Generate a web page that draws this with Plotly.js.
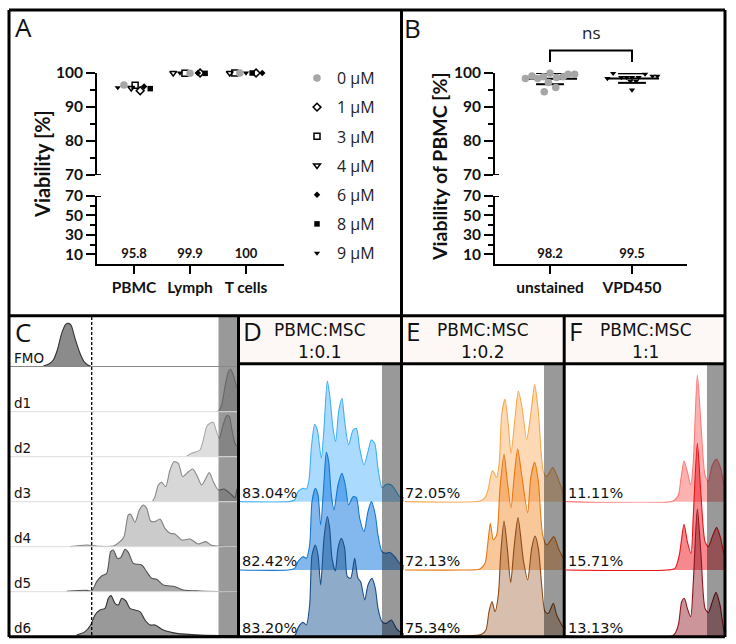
<!DOCTYPE html>
<html><head><meta charset="utf-8">
<script src="https://cdn.plot.ly/plotly-3.0.1.min.js"></script>
<style>html,body{margin:0;padding:0;background:#fff}#c{width:736px;height:644px}</style></head>
<body><div id="c"></div>
<script>
// ---------- Panel A data ----------
const catsA = ['PBMC','Lymph','T cells'];
const medA = ['95.8','99.9','100'];
const dose0x=[-0.18,1.0,1.89],  dose0y=[96.5,99.9,100];
const dose1x=[0.11,1.18,2.18],  dose1y=[94.8,100,100];
const dose3x=[0.02,0.91,1.80],  dose3y=[96.4,99.9,100];
const dose4x=[-0.05,0.70,1.71], dose4y=[95.6,100,100];
const dose6x=[0.18,1.14,2.29],  dose6y=[96,100,100];
const dose8x=[0.29,1.27,2.11],  dose8y=[95.4,99.9,100];
const dose9x=[-0.29,0.82,2.0],  dose9y=[95.7,100,100];
// ---------- Panel B data ----------
const catsB=['unstained','VPD450'];
const medB=['98.2','99.5'];
const unstX=[-0.30,-0.22,-0.15,-0.08,0,0.08,0.16,0.22,0.30,-0.07,0.07,-0.02];
const unstY=[98.4,99.1,98.4,98.9,99.9,98.7,98.9,99.6,99.6,94.5,95.7,97.2];
const vpdX=[0.70,0.77,0.87,0.935,1,1.08,1.16,1.25,1.31,1,0.98,1.05];
const vpdY=[98.4,99.9,98.7,98.7,98.7,98.7,99.7,99.1,99.1,95,97.6,97.6];
const unstMean=98.3, unstHi=100, unstLo=96.7;
const vpdMean=98.4, vpdHi=99.9, vpdLo=97.1;
// ---------- Panel C histograms ----------
const fmoX=[130,145,160,172,185,197,205,213,225,240,252,265,272];
const fmoY=[0,5,18,48,98,125,128,123,83,38,13,2,0];
const d1X=[650,656,665,675,685,692,700,710,720];
const d1Y=[1,2,20,75,120,127,110,75,50];
const d2X=[560,575,590,600,610,620,630,640,648,658,668,680,688,695,705,712,720];
const d2Y=[1,10,15,20,50,90,100,103,80,55,90,123,120,85,40,30,25];
const d3X=[458,465,475,485,497,510,522,535,548,560,578,590,605,615,628,640,655,672,690,705,712,720];
const d3Y=[2,15,50,58,45,95,120,115,75,85,98,80,50,65,87,60,35,38,25,12,40,45];
const d4X=[210,260,300,340,360,372,385,392,405,418,430,440,452,465,480,495,510,525,545,570,595,617,635,660,720];
const d4Y=[0,5,1,2,15,30,95,97,73,110,125,115,77,75,83,55,40,38,20,23,8,15,4,1,0];
const d5X=[200,260,275,290,305,320,332,340,352,362,375,385,400,425,440,455,470,490,525,550,600,720];
const d5Y=[1,4,2,30,47,55,120,125,100,102,127,118,85,80,60,40,37,20,15,5,2,0];
const d6X=[230,255,272,285,300,315,325,333,345,355,365,378,390,420,435,450,465,490,530,600,720];
const d6Y=[2,12,32,62,77,82,112,120,97,92,112,104,82,72,47,32,32,17,7,2,0];
// ---------- Panel D ----------
const dTopX=[5,150,170,180,195,205,213,220,230,238,250,258,268,275,285,293,302,312,320,332,345,355,365,378,390,400,410,420,432,445,460,475,485,498];
const dTopY=[0,0,5,30,40,38,65,160,232,215,130,220,362,320,220,180,270,310,240,170,215,220,160,110,150,185,175,100,42,52,50,30,15,12];
const dMidX=[5,150,170,180,195,205,215,222,232,240,248,258,265,272,280,288,300,312,322,332,345,355,365,378,390,400,412,420,432,445,455,470,485,498];
const dMidY=[0,0,5,25,40,35,75,205,245,225,135,265,353,325,225,180,255,290,255,195,220,217,155,115,175,205,165,105,55,50,53,40,20,12];
const dBotX=[5,150,170,182,195,205,215,222,232,240,248,258,268,275,282,292,300,310,320,328,338,350,360,368,380,390,402,412,420,432,445,460,475,485,498];
const dBotY=[0,0,3,30,43,35,95,245,275,245,155,295,360,325,235,197,265,295,265,180,175,235,175,165,110,155,175,145,85,45,40,50,25,15,8];
// ---------- Panel E ----------
const eTopX=[15,240,255,265,277,290,298,305,315,325,333,345,355,365,380,392,404,415,430,440,458,470,490];
const eTopY=[0,2,12,40,93,73,120,260,307,230,145,250,332,290,187,260,352,270,90,75,102,80,25];
const eMidX=[15,185,240,255,263,271,280,290,300,312,322,333,343,353,365,383,392,404,415,428,440,462,475,490];
const eMidY=[0,0,3,20,75,140,90,105,245,347,265,187,285,363,285,172,275,323,265,105,75,100,65,35];
const eBotX=[15,215,245,258,267,276,285,295,302,312,322,332,342,354,370,383,395,405,415,425,435,445,460,470,488];
const eBotY=[0,1,5,18,73,103,73,123,243,345,263,160,263,355,228,168,263,300,263,153,73,68,98,63,28];
// ---------- Panel F ----------
const fTopX=[498,820,835,843,852,862,872,880,892,903,915,925,937,950,962,975,985];
const fTopY=[0,2,20,70,122,90,50,120,380,230,80,60,110,128,100,40,35];
const fMidX=[498,800,825,838,852,862,873,880,892,903,915,925,937,950,962,975,985];
const fMidY=[0,0,5,45,137,85,50,165,380,225,85,70,100,128,95,40,35];
const fBotX=[498,820,835,845,853,862,872,880,892,903,915,925,937,948,960,975,985];
const fBotY=[0,2,33,103,113,83,58,163,381,243,83,70,103,131,93,8,5];
const pctD=['83.04%','82.42%','83.20%'], pctE=['72.05%','72.13%','75.34%'], pctF=['11.11%','15.71%','13.13%'];
const rowLabels=['FMO','d1','d2','d3','d4','d5','d6'];
const headersDEF=['PBMC:MSC<br>1:0.1','PBMC:MSC<br>1:0.2','PBMC:MSC<br>1:1'];

// ---------- helpers ----------
const W=736,H=644, BOLD='Lato, sans-serif', VERD='"DejaVu Sans", sans-serif', OPEN='"Open Sans", sans-serif';
const px=x=>x/W, py=y=>1-y/H;
const traces=[], shapes=[], annotations=[];
const layout={width:W,height:H,margin:{l:0,r:0,t:0,b:0},paper_bgcolor:'#fff',plot_bgcolor:'rgba(0,0,0,0)',
  showlegend:true,hovermode:false,font:{family:OPEN,color:'#000'},shapes,annotations,
  legend:{x:px(297),y:py(61),xanchor:'left',yanchor:'top',font:{family:OPEN,size:16,color:'#222'},
          tracegroupgap:5.4,bgcolor:'rgba(0,0,0,0)',itemwidth:30,traceorder:'grouped'}};
const ann=(text,x,y,size,family,o={})=>annotations.push(Object.assign({text,x:px(x),y:py(y),xref:'paper',yref:'paper',
  showarrow:false,font:{size,family,color:'#111'},xanchor:'center',yanchor:'middle'},o));
const hline=(x0,x1,y,color,w)=>shapes.push({type:'line',xref:'paper',yref:'paper',x0:px(x0),x1:px(x1),y0:py(y),y1:py(y),line:{color,width:w},layer:'above'});
const vline=(x,y0,y1,color,w,dash)=>shapes.push({type:'line',xref:'paper',yref:'paper',x0:px(x),x1:px(x),y0:py(y0),y1:py(y1),line:{color,width:w,dash:dash||'solid'},layer:'above'});

function brokenAxes(xa,ya0,ya1,left,right,catX0,catStep,cats){
  const xn=xa==='x'?'xaxis':'xaxis'+xa.slice(1);
  const yl=ya0==='y'?'yaxis':'yaxis'+ya0.slice(1), yu='yaxis'+ya1.slice(1);
  const lo=(left-catX0)/catStep, hi=(right-catX0)/catStep;
  layout[xn]={domain:[px(left),px(right)],range:[lo,hi],anchor:ya0,tickvals:cats.map((c,i)=>i),ticktext:cats,
    ticks:'outside',ticklen:8,tickwidth:2,tickcolor:'#000',showline:true,linecolor:'#000',linewidth:2,showgrid:false,zeroline:false,
    tickfont:{family:BOLD,size:15.5,color:'#111',weight:700}};
  const base={anchor:xa,showline:true,linecolor:'#000',linewidth:2,showgrid:false,zeroline:false,ticks:'outside',ticklen:9,tickwidth:2,
    tickcolor:'#000',tickfont:{family:BOLD,size:15.5,color:'#111',weight:700}};
  layout[yl]=Object.assign({},base,{domain:[py(264),py(196)],range:[0,70],tickvals:[10,30,50,70],ticktext:['10','30','50','70'],
    minor:{tickvals:[20,40,60],ticks:'outside',ticklen:5,tickwidth:2,tickcolor:'#000'}});
  layout[yu]=Object.assign({},base,{domain:[py(175),py(73)],range:[70,100],tickvals:[70,80,90,100],ticktext:['70','80','90','100'],
    minor:{tickvals:[75,85,95],ticks:'outside',ticklen:5,tickwidth:2,tickcolor:'#000'}});
  [[ya0,70],[ya1,70]].forEach(([yr,v])=>shapes.push({type:'line',xref:xa,yref:yr,x0:lo,x1:lo+4/catStep,y0:v,y1:v,line:{color:'#000',width:2}}));
}
const dark='#000';
function dose(name,xs,ys,sym,size,color){
  traces.push({type:'scatter',mode:'markers',name,legendgroup:name,x:xs,y:ys,xaxis:'x',yaxis:'y2',cliponaxis:false,
    marker:{symbol:sym,size,color:color||dark,line:{color:color||dark,width:sym.includes('open')?1.5:0}}});
}
// Panel A
brokenAxes('x','y','y2',97,284,134,56,catsA);
dose('4 µM',dose4x,dose4y,'triangle-down-open',6);
dose('3 µM',dose3x,dose3y,'square-open',6);
dose('1 µM',dose1x,dose1y,'diamond-open',6);
dose('6 µM',dose6x,dose6y,'diamond',5);
dose('8 µM',dose8x,dose8y,'square',5.5);
dose('9 µM',dose9x,dose9y,'triangle-down',5.5);
dose('0 µM',dose0x,dose0y,'circle',7.5,'#a6a6a6');
traces.push({type:'scatter',mode:'text',x:[0,1,2],y:[10,10,10],text:medA,xaxis:'x',yaxis:'y',showlegend:false,cliponaxis:false,
  textfont:{family:BOLD,size:13,color:'#111',weight:700},textposition:'middle center'});
// Panel B
brokenAxes('x2','y3','y4',495,687,550,82,catsB);
const meanLine=(c,m,hi,lo)=>({x:[c-0.31,c+0.33,null,c-0.17,c+0.17,null,c-0.17,c+0.17],y:[m,m,null,hi,hi,null,lo,lo]});
[[0,unstMean,unstHi,unstLo],[1,vpdMean,vpdHi,vpdLo]].forEach(a=>{
  const l=meanLine(...a);
  traces.push({type:'scatter',mode:'lines',x:l.x,y:l.y,xaxis:'x2',yaxis:'y4',cliponaxis:false,showlegend:false,line:{color:'#000',width:2}});
});
traces.push({type:'scatter',mode:'markers',x:unstX,y:unstY,xaxis:'x2',yaxis:'y4',cliponaxis:false,showlegend:false,marker:{symbol:'circle',size:7.5,color:'#a6a6a6'}});
traces.push({type:'scatter',mode:'markers',x:vpdX,y:vpdY,xaxis:'x2',yaxis:'y4',cliponaxis:false,showlegend:false,marker:{symbol:'triangle-down',size:5.5,color:'#000'}});
traces.push({type:'scatter',mode:'text',x:[0,1],y:[10,10],text:medB,xaxis:'x2',yaxis:'y3',showlegend:false,cliponaxis:false,
  textfont:{family:BOLD,size:13,color:'#111',weight:700},textposition:'middle center'});
shapes.push({type:'path',xref:'x2',yref:'paper',path:`M0,${py(62)} L0,${py(50.5)} L1,${py(50.5)} L1,${py(62)}`,line:{color:'#000',width:2}});
ann('ns',591,33,17,OPEN,{font:{size:17,family:OPEN,color:'#222'}});
ann('Viability [%]',42,164,20,BOLD,{textangle:-90,font:{size:20,family:BOLD,color:'#111',weight:700}});
ann('Viability of PBMC [%]',439,166,19.5,BOLD,{textangle:-90,font:{size:19.5,family:BOLD,color:'#111',weight:700}});

// ridge panels
let yIdx=5,xIdx=3;
function panel(l,r,range,ridges){
  const xn='x'+xIdx; 
  layout['xaxis'+xIdx]={domain:[px(l),px(r)],range,visible:false,anchor:'y'+yIdx,fixedrange:true};
  ridges.forEach(rd=>{
    layout['yaxis'+yIdx]={domain:[py(rd.base+1),py(rd.base-140)],range:[-3,420],visible:false,anchor:xn,fixedrange:true};
    traces.push({type:'scatter',mode:'lines',x:rd.x,y:rd.y,xaxis:xn,yaxis:'y'+yIdx,showlegend:false,fill:'tozeroy',fillcolor:rd.fill,
      line:{color:rd.line,width:1.1,shape:'spline',smoothing:0.7}});
    yIdx++;
  });
  xIdx++;
}
const by=z=>315+z/3;
panel(0,238,[0,714],[
 {x:fmoX,y:fmoY,base:by(153),fill:'rgba(110,110,110,.8)',line:'#333'},
 {x:d1X,y:d1Y,base:by(290),fill:'rgba(150,150,150,.35)',line:'#aaa'},
 {x:d2X,y:d2Y,base:by(425),fill:'rgba(200,200,200,.6)',line:'#aaa'},
 {x:d3X,y:d3Y,base:by(560),fill:'rgba(190,190,190,.62)',line:'#8a8a8a'},
 {x:d4X,y:d4Y,base:by(695),fill:'rgba(175,175,175,.65)',line:'#808080'},
 {x:d5X,y:d5Y,base:by(830),fill:'rgba(130,130,130,.7)',line:'#555'},
 {x:d6X,y:d6Y,base:by(962),fill:'rgba(110,110,110,.7)',line:'#333'}]);
panel(238,404,[0,498],[
 {x:dTopX,y:dTopY,base:by(560),fill:'rgba(100,190,255,.55)',line:'#3fb0f5'},
 {x:dMidX,y:dMidY,base:by(765),fill:'rgba(30,125,225,.55)',line:'#1677cc'},
 {x:dBotX,y:dBotY,base:by(965),fill:'rgba(30,90,150,.5)',line:'#1c4f8a'}]);
panel(400,564,[0,492],[
 {x:eTopX,y:eTopY,base:by(560),fill:'rgba(250,170,90,.45)',line:'#f5a94d'},
 {x:eMidX,y:eMidY,base:by(765),fill:'rgba(240,130,30,.45)',line:'#e8770f'},
 {x:eBotX,y:eBotY,base:by(963),fill:'rgba(140,70,20,.35)',line:'#8f4a14'}]);
panel(564,726,[492,978],[
 {x:fTopX,y:fTopY,base:by(560),fill:'rgba(250,60,60,.4)',line:'#ff7a7a'},
 {x:fMidX,y:fMidY,base:by(765),fill:'rgba(235,20,30,.5)',line:'#e8141a'},
 {x:fBotX,y:fBotY,base:by(963),fill:'rgba(140,20,30,.45)',line:'#8f1420'}]);

// header backgrounds
shapes.push({type:'rect',xref:'paper',yref:'paper',x0:px(240),x1:px(725),y0:py(362),y1:py(316),fillcolor:'#fdf8f6',line:{width:0},layer:'below'});
// gray gates
[[218.5,238,317],[382,401,364],[544,563,364],[707,725,364]].forEach(b=>
  shapes.push({type:'rect',xref:'paper',yref:'paper',x0:px(b[0]),x1:px(b[1]),y0:py(636),y1:py(b[2]),fillcolor:'rgba(0,0,0,.4)',line:{width:0},layer:'above'}));
// lines
vline(91.7,317,636,'#000',1.3,'3px,2px');
hline(9,238,366.5,'#888',1.2);
[411.7,456.7,501.7,546.7,591.7].forEach(y=>hline(10,238,y,'#ddd',1));
// frames
hline(9,725,10,'#000',3); hline(9,725,636.7,'#000',3); vline(9,10,637,'#000',3); vline(725,10,637,'#000',3);
hline(9,725,315.8,'#000',3); vline(401.5,10,637,'#000',3); vline(238.5,316,637,'#000',3); vline(564.2,316,637,'#000',3);
hline(238.5,725,363.7,'#000',3);
// labels
ann('A',23,27,26,OPEN); ann('B',412,28,26,OPEN); ann('C',23,332,26,OPEN);
ann('D',252,331,26,OPEN); ann('E',413,331,26,OPEN); ann('F',575.5,331,26,OPEN);
const rowY=[358,403.3,448,493,538,583,628];
rowLabels.forEach((t,i)=>ann(t,12,rowY[i],13.5,VERD,{xanchor:'left'}));
const pctY=[493,561,628];
[[pctD,239.5],[pctE,402.5],[pctF,566]].forEach(([a,x])=>a.forEach((t,i)=>ann(t,x,pctY[i],14.5,VERD,{xanchor:'left'})));
[319.7,482.7,646].forEach((x,i)=>ann(headersDEF[i],x,340.5,17,VERD,{align:'center'}));

// order legend by dose
const order=['0 µM','1 µM','3 µM','4 µM','6 µM','8 µM','9 µM'];
traces.filter(t=>t.legendgroup).forEach(t=>t.legendrank=order.indexOf(t.name)+1);

Plotly.newPlot('c',traces,layout,{displayModeBar:false,staticPlot:true});
</script></body></html>
